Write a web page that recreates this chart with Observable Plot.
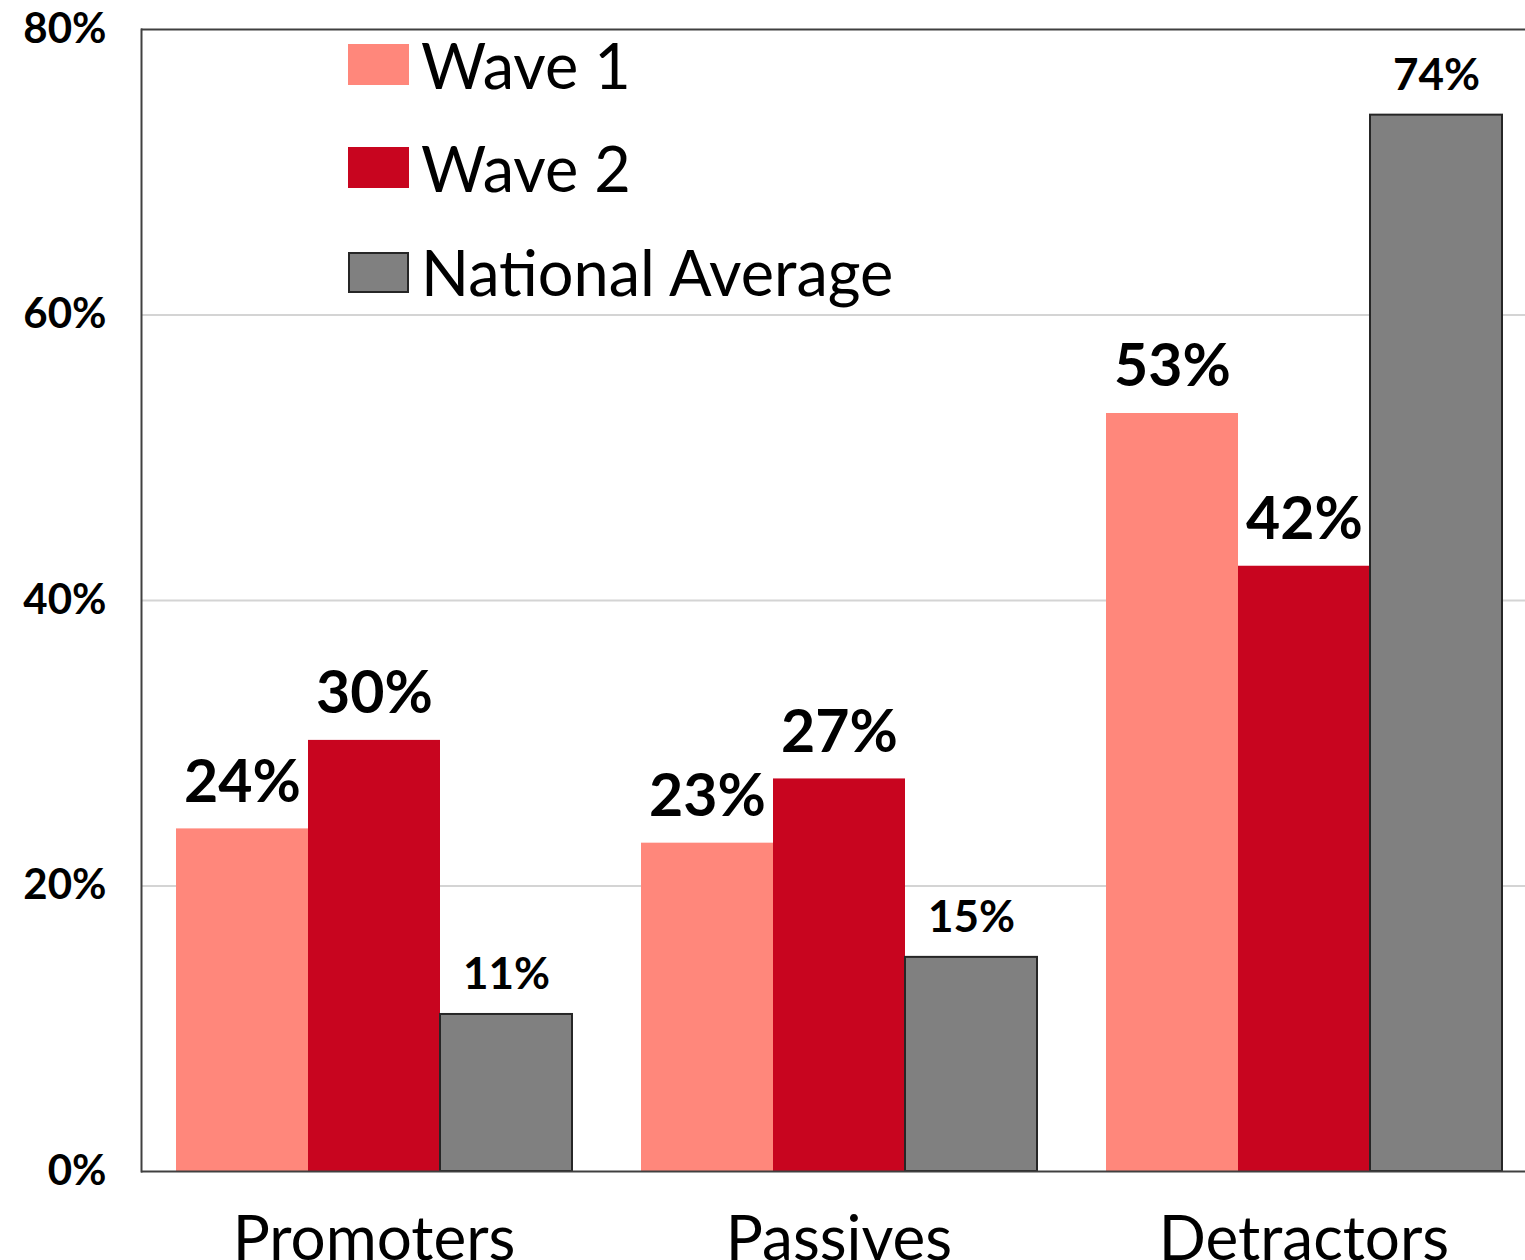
<!DOCTYPE html>
<html>
<head>
<meta charset="utf-8">
<script src="https://cdn.jsdelivr.net/npm/d3@7"></script>
<script src="https://cdn.jsdelivr.net/npm/@observablehq/plot@0.6"></script>
<style>
  html, body { margin: 0; padding: 0; overflow: hidden; background: #fff; }
  #wrap { position: relative; width: 1525px; height: 1260px; overflow: hidden; font-family: Lato, "Open Sans", sans-serif; }
  #wrap svg { max-width: none !important; }
  .legend-row { position: absolute; left: 348px; height: 60px; display: flex; align-items: center; }
  .sw { width: 61px; height: 41px; box-sizing: border-box; margin-right: 12px; }
  .lt { font-size: 63px; color: #000; white-space: nowrap; line-height: 1.2; }
</style>
</head>
<body>
<div id="wrap"></div>
<script>
const categories = ["Promoters", "Passives", "Detractors"];
const series = ["Wave 1", "Wave 2", "National Average"];
const wave1 = [24.0, 23.0, 53.1];
const wave2 = [30.2, 27.5, 42.4];
const national = [11.0, 15.0, 74.0];
const wave1Labels = ["24%", "23%", "53%"];
const wave2Labels = ["30%", "27%", "42%"];
const nationalLabels = ["11%", "15%", "74%"];
const yTicks = [0, 20, 40, 60, 80];
const colors = ["#ff877b", "#c8051f", "#808080"];

const values = [wave1, wave2, national];
const labels = [wave1Labels, wave2Labels, nationalLabels];
const data = [];
series.forEach((s, i) => categories.forEach((c, j) => {
  data.push({category: c, series: s, value: values[i][j], label: labels[i][j]});
}));

const chart = Plot.plot({
  width: 1536,
  height: 1260,
  marginLeft: 141,
  marginRight: 0,
  marginTop: 29,
  marginBottom: 89,
  style: {fontFamily: "Lato, 'Open Sans', sans-serif", color: "#000", background: "#fff", maxWidth: "none"},
  fx: {domain: categories, padding: 0, label: null},
  x: {domain: series, paddingInner: 0, paddingOuter: 0.257, axis: null},
  y: {domain: [0, 80], label: null},
  color: {domain: series, range: colors},
  marks: [
    Plot.gridY([20, 40, 60], {stroke: "#d4d4d4", strokeOpacity: 1, strokeWidth: 2}),
    Plot.barY(data, {
      fx: "category", x: "series", y: "value", fill: "series", inset: 0,
      stroke: d => d.series === "National Average" ? "#262626" : "none",
      strokeWidth: 2
    }),
    Plot.ruleY([0, 80], {stroke: "#404040", strokeWidth: 2}),
    Plot.frame({anchor: "left", facetAnchor: "left", stroke: "#404040", strokeWidth: 2}),
    Plot.text(data.filter(d => d.series !== "National Average"), {
      fx: "category", x: "series", y: "value", text: "label",
      lineAnchor: "bottom", dy: -27, fontSize: 59, fontWeight: "bold", fill: "#000"
    }),
    Plot.text(data.filter(d => d.series === "National Average"), {
      fx: "category", x: "series", y: "value", text: "label",
      lineAnchor: "bottom", dy: -25, fontSize: 44, fontWeight: "bold", fill: "#000"
    }),
    Plot.axisY(yTicks, {
      tickSize: 0, tickPadding: 35, tickFormat: d => d + "%",
      fontSize: 42, fontWeight: "bold", label: null
    }),
    Plot.axisFx({
      anchor: "bottom", tickSize: 0, tickPadding: 44,
      fontSize: 62, fontWeight: "normal", label: null
    })
  ]
});
const wrap = document.getElementById("wrap");
wrap.appendChild(chart);

// legend (inside plot area, top-left)
const legendCenters = [64.5, 167.5, 272];
series.forEach((s, i) => {
  const row = document.createElement("div");
  row.className = "legend-row";
  row.style.top = (legendCenters[i] - 30) + "px";
  const sw = document.createElement("div");
  sw.className = "sw";
  sw.style.background = colors[i];
  if (s === "National Average") sw.style.border = "2px solid #262626";
  const t = document.createElement("span");
  t.className = "lt";
  t.textContent = s;
  row.appendChild(sw);
  row.appendChild(t);
  wrap.appendChild(row);
});
</script>
</body>
</html>
